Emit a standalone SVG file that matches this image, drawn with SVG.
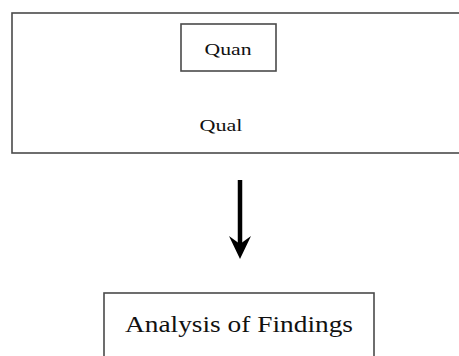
<svg xmlns="http://www.w3.org/2000/svg" width="459" height="356" viewBox="0 0 459 356">
<style>
.box{fill:#fff;stroke:#4a4a4a;stroke-width:1.6}
.t{font-family:"Liberation Serif","Times New Roman",serif;fill:#111;text-anchor:middle}
</style>
<defs>
<marker id="ah" markerWidth="10" markerHeight="10" refX="5" refY="9" orient="auto" markerUnits="userSpaceOnUse" viewBox="0 0 10 10">
<path d="M0,2 L5,9 L10,2 L5,4.5 Z" fill="#000"/>
</marker>
</defs>
<rect width="459" height="356" fill="#fff"/>
<g id="outer">
<rect class="box" x="12" y="13" width="460" height="140"/>
</g>
<g id="quan">
<rect class="box" x="181" y="24" width="95" height="47"/>
<text class="t" x="228" y="55" font-size="17" textLength="47" lengthAdjust="spacingAndGlyphs">Quan</text>
</g>
<g id="qual">
<text class="t" x="221" y="131" font-size="17" textLength="43" lengthAdjust="spacingAndGlyphs">Qual</text>
</g>
<g id="connectors">
<line x1="240" y1="180" x2="240" y2="252" stroke="#000" stroke-width="4.5"/>
<path d="M229,236 L240,259 L251,236 L240,244 Z" fill="#000"/>
</g>
<g id="analysis">
<rect class="box" x="104" y="293" width="270" height="80"/>
<text class="t" x="239" y="332" font-size="24" textLength="228" lengthAdjust="spacingAndGlyphs">Analysis of Findings</text>
</g>
</svg>
